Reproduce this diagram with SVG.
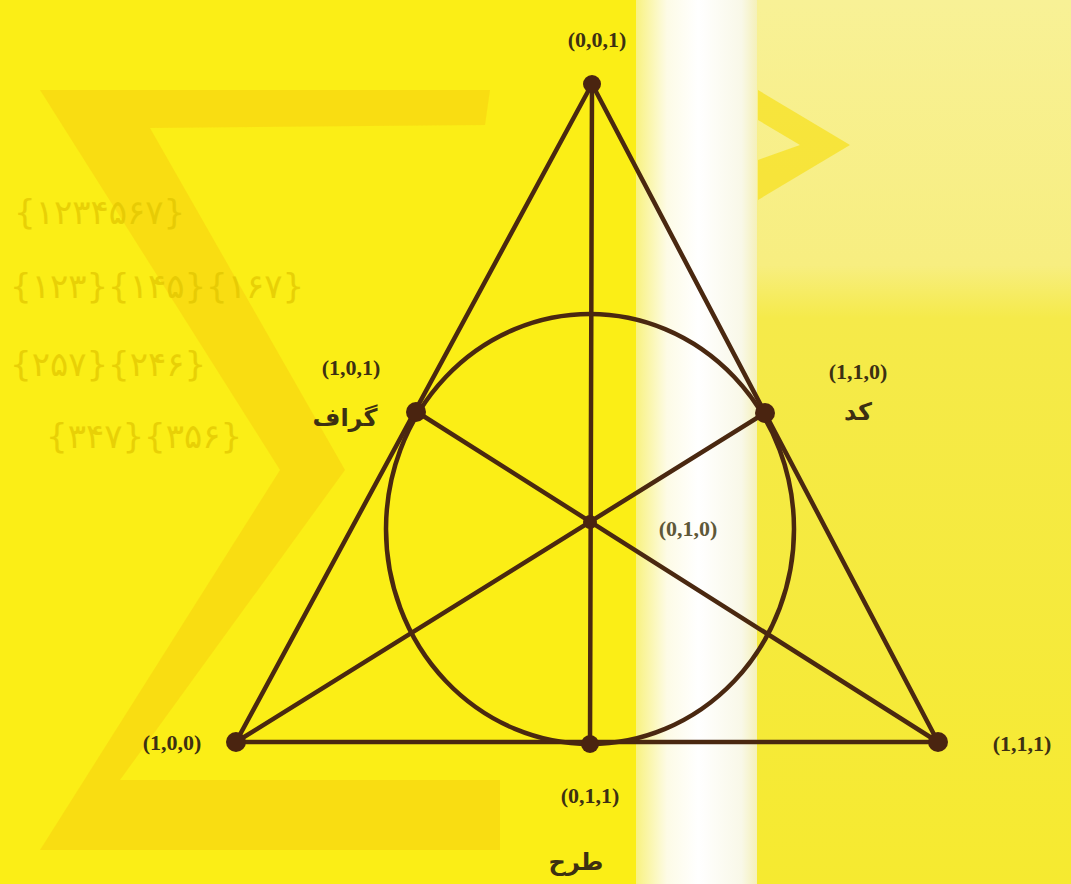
<svg xmlns="http://www.w3.org/2000/svg" width="1071" height="884" viewBox="0 0 1071 884">
  <defs>
    <linearGradient id="strip" x1="0" y1="0" x2="1" y2="0">
      <stop offset="0" stop-color="#f8f280"/>
      <stop offset="0.25" stop-color="#fdfbe6"/>
      <stop offset="0.5" stop-color="#ffffff"/>
      <stop offset="0.85" stop-color="#f9f8e8"/>
      <stop offset="1" stop-color="#f4efb0"/>
    </linearGradient>
    <linearGradient id="rightbg" x1="0" y1="0" x2="0" y2="1">
      <stop offset="0" stop-color="#f8f196"/>
      <stop offset="0.3" stop-color="#f7ee80"/>
      <stop offset="0.36" stop-color="#f5ea4a"/>
      <stop offset="1" stop-color="#f6ea30"/>
    </linearGradient>
    <style>
      .edge { stroke: #4a2810; stroke-width: 4.5; fill: none; stroke-linecap: round; }
      .dot { fill: #4a2410; }
      .lbl { font-family: "Liberation Serif", "DejaVu Serif", serif; font-weight: bold; font-size: 22px; fill: #3d3012; text-anchor: middle; }
      .fa { font-family: "Noto Sans", "DejaVu Sans", sans-serif; font-weight: bold; font-size: 24px; fill: #3d3012; text-anchor: middle; }
      .wm { font-family: "DejaVu Sans", "Noto Sans", sans-serif; font-size: 34px; letter-spacing: 3px; fill: #e0c400; opacity: 0.7; }
      .sig { fill: #f8cf10; opacity: 0.55; }
    </style>
  </defs>

  <!-- background -->
  <rect x="0" y="0" width="1071" height="884" fill="#fbee16"/>
  <rect x="636" y="0" width="124" height="884" fill="url(#strip)"/>
  <rect x="757" y="0" width="314" height="884" fill="url(#rightbg)"/>

  <!-- watermark sigma shapes -->
  <g id="watermark">
    <path class="sig" d="M40 90 L490 90 L485 125 L150 128 L345 470 L120 780 L500 780 L500 850 L40 850 L280 470 Z"/>
    <path fill="#f7e01a" opacity="0.7" d="M758 90 L850 145 L758 200 L758 160 L800 145 L758 120 Z"/>
    <text class="wm" x="14" y="224">{۱۲۳۴۵۶۷}</text>
    <text class="wm" x="10" y="298">{۱۲۳}{۱۴۵}{۱۶۷}</text>
    <text class="wm" x="10" y="376">{۲۵۷}{۲۴۶}</text>
    <text class="wm" x="46" y="448">{۳۴۷}{۳۵۶}</text>
  </g>

  <!-- connectors -->
  <g id="connectors">
    <polygon class="edge" points="592,84 236,742 938,742"/>
    <line class="edge" x1="592" y1="84" x2="590" y2="744"/>
    <line class="edge" x1="236" y1="742" x2="765" y2="413"/>
    <line class="edge" x1="938" y1="742" x2="417" y2="412"/>
    <ellipse class="edge" cx="590" cy="529" rx="204" ry="215"/>
  </g>

  <!-- nodes -->
  <g id="n001">
    <circle class="dot" cx="592" cy="84" r="9"/>
    <text class="lbl" x="597" y="47">(0,0,1)</text>
  </g>
  <g id="n101">
    <circle class="dot" cx="416" cy="412" r="10"/>
    <text class="lbl" x="351" y="375">(1,0,1)</text>
    <text class="fa" x="345" y="426">گراف</text>
  </g>
  <g id="n110">
    <circle class="dot" cx="765" cy="413" r="10"/>
    <text class="lbl" x="858" y="379">(1,1,0)</text>
    <text class="fa" x="858" y="420">کد</text>
  </g>
  <g id="n010">
    <circle class="dot" cx="590" cy="522" r="7"/>
    <text class="lbl" x="688" y="536" style="fill:#5e5838">(0,1,0)</text>
  </g>
  <g id="n100">
    <circle class="dot" cx="236" cy="742" r="10"/>
    <text class="lbl" x="172" y="750">(1,0,0)</text>
  </g>
  <g id="n111">
    <circle class="dot" cx="938" cy="742" r="10"/>
    <text class="lbl" x="1022" y="751">(1,1,1)</text>
  </g>
  <g id="n011">
    <circle class="dot" cx="590" cy="744" r="9"/>
    <text class="lbl" x="590" y="803">(0,1,1)</text>
    <text class="fa" x="576" y="870">طرح</text>
  </g>
</svg>
